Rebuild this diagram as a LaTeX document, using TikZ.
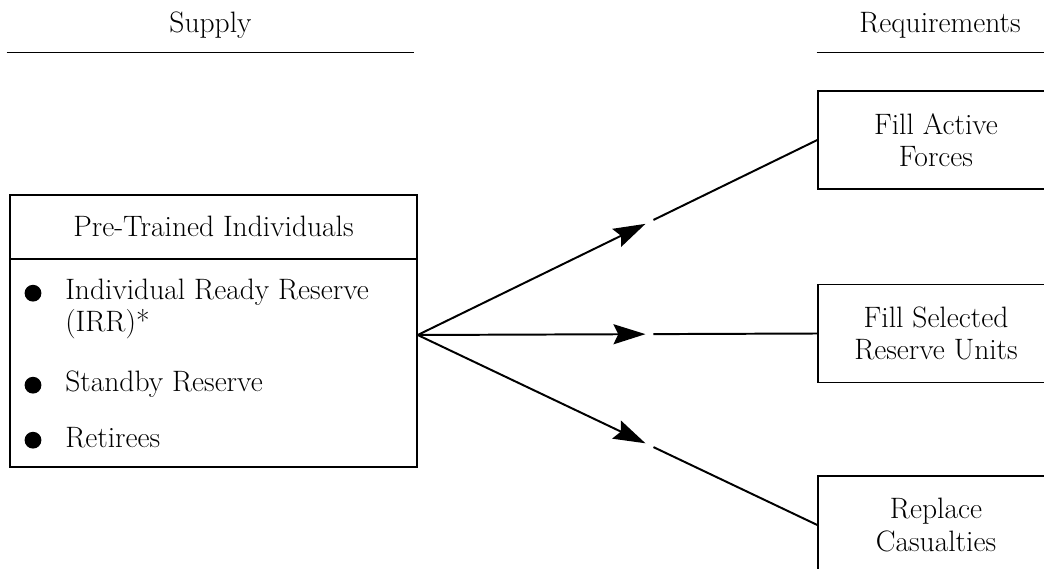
\documentclass[tikz,border=0pt]{standalone}
\usetikzlibrary{arrows.meta,calc,positioning}
\begin{document}
\begin{tikzpicture}
    [%%%%%%%%%%%%%%%%%%%%%%%%%%%%%%
        txt/.style={font=\fontsize{21}{23}\selectfont, inner sep=0pt},
        box/.style={rectangle,draw=black,line width=1pt, align=center, font=\fontsize{21}{23}\selectfont},
        req/.style={box, minimum width=5.9cm, minimum height=2.45cm},
        head/.style={txt, minimum height=1.35cm},
        dot/.style={circle, fill=black, inner sep=0pt, minimum size=0.42cm},
        flow/.style={line width=1.4pt, -{Stealth[length=0.8cm,width=0.5cm,inset=0.12cm]}},
        link/.style={line width=1.4pt},
    ]%%%%%%%%%%%%%%%%%%%%%%%%%%%%%%
    \clip (0,0) rectangle (26.1,14.2);

    \node[head, minimum width=10.175cm] (supply) at (5.2625,13.575) {Supply};
    \draw[line width=1pt] (supply.south west) -- (supply.south east);
    \node[head, minimum width=6.15cm] (reqs) at (23.5,13.575) {Requirements};
    \draw[line width=1pt] (reqs.south west) -- (reqs.south east);

    \node[box, minimum width=10.175cm, minimum height=6.8cm] (pti) at (5.3375,5.925) {};
    \node[txt, anchor=north, minimum height=1.6cm] (title) at (pti.north) {Pre-Trained Individuals};
    \draw[line width=1pt] (pti.west |- title.south) -- (pti.east |- title.south);

    \node[txt, anchor=base west] (irr) at (1.625,6.7) {Individual Ready Reserve};
    \node[txt, anchor=base west] (irrb) at (1.625,5.9) {(IRR)*};
    \node[txt, anchor=base west] (sbr) at (1.625,4.4) {Standby Reserve};
    \node[txt, anchor=base west] (ret) at (1.625,3.025) {Retirees};
    \node[dot] (d1) at ([xshift=-0.8cm,yshift=0.17cm]irr.base west) {};
    \node[dot] (d2) at ([xshift=-0.8cm,yshift=0.17cm]sbr.base west) {};
    \node[dot] (d3) at ([xshift=-0.8cm,yshift=0.17cm]ret.base west) {};

    \node[req] (fa) at (23.4,10.7) {Fill Active\\Forces};
    \node[req] (fs) at (23.4,5.8625) {Fill Selected\\Reserve Units};
    \node[req] (rc) at (23.4,1.075) {Replace\\Casualties};

    % supply to requirements
    \coordinate (src) at ([yshift=-0.1cm]pti.east);
    \draw[flow] (src) -- ($(src)!0.57!(fa.west)$);
    \draw[link] ($(src)!0.59!(fa.west)$) -- (fa.west);
    \draw[flow] (src) -- ($(src)!0.57!(fs.west)$);
    \draw[link] ($(src)!0.59!(fs.west)$) -- (fs.west);
    \draw[flow] (src) -- ($(src)!0.57!(rc.west)$);
    \draw[link] ($(src)!0.59!(rc.west)$) -- (rc.west);
\end{tikzpicture}
\end{document}
